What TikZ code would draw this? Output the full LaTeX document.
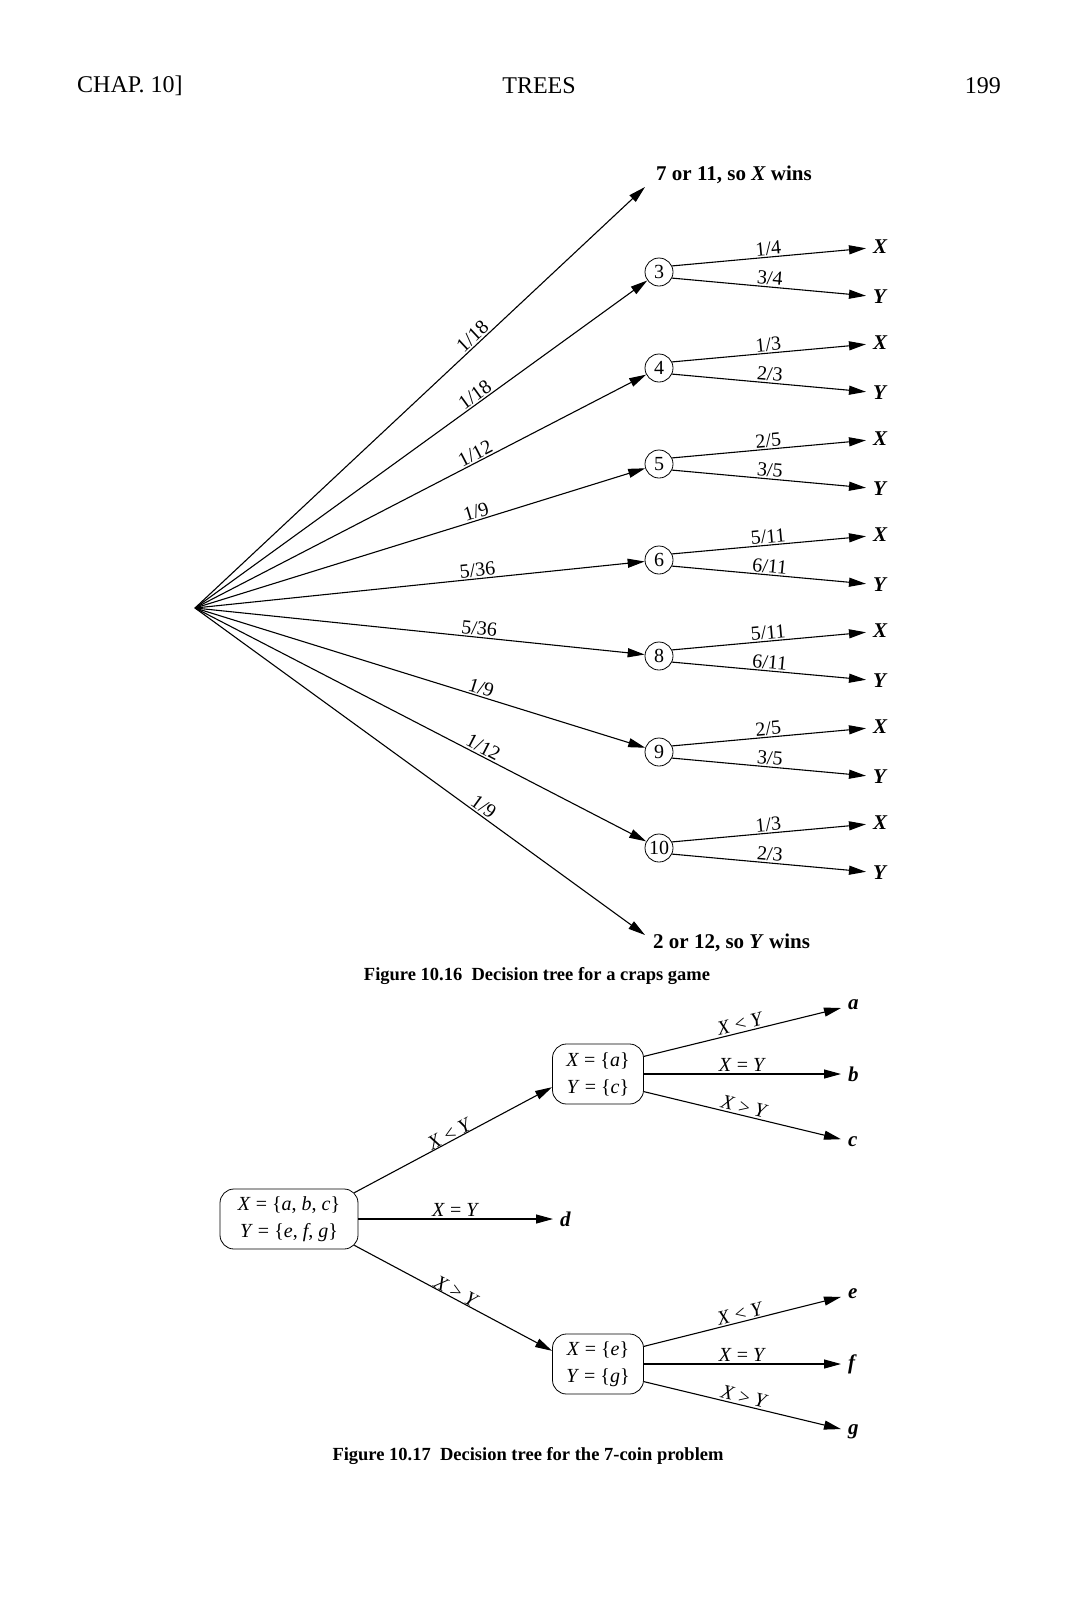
\documentclass[tikz,border=0pt]{standalone}
\usepackage{fontspec}
\setmainfont{Liberation Serif}
\usetikzlibrary{arrows.meta, positioning, calc}
\tikzset{
  chance/.style  = {draw, circle, line width=0.8pt, minimum size=28pt,
                    inner sep=0pt, font=\fontsize{20}{22}\selectfont},
  setbox/.style  = {draw, rectangle, rounded corners=14pt, align=center,
                    line width=0.8pt, minimum height=60pt, inner sep=2pt,
                    font=\fontsize{20}{27}\selectfont},
  arr/.style     = {-{Triangle[length=17pt, width=9pt]}, line width=1.1pt},
  lbl/.style     = {font=\fontsize{20}{22}\selectfont, sloped, above,
                    inner sep=1.5pt},
  leaf/.style    = {font=\fontsize{21}{24}\selectfont\bfseries\itshape,
                    anchor=west, inner sep=0pt, outer sep=7pt},
  outcome/.style = {font=\fontsize{21}{24}\selectfont\bfseries,
                    anchor=west, inner sep=0pt},
  capt/.style    = {font=\fontsize{18.5}{22}\selectfont\bfseries, inner sep=0pt},
  hdr/.style     = {font=\fontsize{24}{28}\selectfont, inner sep=0pt}
}

\begin{document}
\begin{tikzpicture}[x=1pt, y=-1pt]
  \useasboundingbox (0,0) rectangle (1079,1610);

  % ── Running head ──────────────────────────────────────────────────────────
  \node[hdr, anchor=west] (chap)  at (77,86)   {CHAP. 10]};
  \node[hdr]              (title) at (539,86)  {TREES};
  \node[hdr, anchor=east] (page)  at (1001,86) {199};

  % ── Figure 10.16: first roll ──────────────────────────────────────────────
  \coordinate (root) at (195,608);
  \node[chance] (c3)  at (659,272) {3};
  \node[chance] (c4)  at (659,368) {4};
  \node[chance] (c5)  at (659,464) {5};
  \node[chance] (c6)  at (659,560) {6};
  \node[chance] (c8)  at (659,656) {8};
  \node[chance] (c9)  at (659,752) {9};
  \node[chance] (c10) at (659,848) {10};

  % end of game on the first roll
  \coordinate (tip7) at (645,187);
  \coordinate (tip2) at (645,935);
  \node[outcome] (win7) at (656,175) {7 or 11, so \textit{X} wins};
  \node[outcome] (win2) at (653,943) {2 or 12, so \textit{Y} wins};

  % ── Winners after the point is set ────────────────────────────────────────
  \node[leaf] (x3)  at (866,247) {X};  \node[leaf] (y3)  at (866,297) {Y};
  \node[leaf] (x4)  at (866,343) {X};  \node[leaf] (y4)  at (866,393) {Y};
  \node[leaf] (x5)  at (866,439) {X};  \node[leaf] (y5)  at (866,489) {Y};
  \node[leaf] (x6)  at (866,535) {X};  \node[leaf] (y6)  at (866,585) {Y};
  \node[leaf] (x8)  at (866,631) {X};  \node[leaf] (y8)  at (866,681) {Y};
  \node[leaf] (x9)  at (866,727) {X};  \node[leaf] (y9)  at (866,777) {Y};
  \node[leaf] (x10) at (866,823) {X};  \node[leaf] (y10) at (866,873) {Y};

  % ── Connections ───────────────────────────────────────────────────────────

  % fan out of the root
  \draw[arr] (root) -- node[lbl, pos=0.63]{1/18} (tip7);
  \draw[arr] (root) -- node[lbl, pos=0.63]{1/18} (c3);
  \draw[arr] (root) -- node[lbl, pos=0.63]{1/12} (c4);
  \draw[arr] (root) -- node[lbl, pos=0.63]{1/9}  (c5);
  \draw[arr] (root) -- node[lbl, pos=0.63]{5/36} (c6);
  \draw[arr] (root) -- node[lbl, pos=0.63]{5/36} (c8);
  \draw[arr] (root) -- node[lbl, pos=0.63]{1/9}  (c9);
  \draw[arr] (root) -- node[lbl, pos=0.63]{1/12} (c10);
  \draw[arr] (root) -- node[lbl, pos=0.63]{1/9}  (tip2);

  % point made (X) or seven first (Y)
  \draw[arr] (c3.25)  -- node[lbl]{1/4}  (x3);
  \draw[arr] (c3.-25) -- node[lbl]{3/4}  (y3);
  \draw[arr] (c4.25)  -- node[lbl]{1/3}  (x4);
  \draw[arr] (c4.-25) -- node[lbl]{2/3}  (y4);
  \draw[arr] (c5.25)  -- node[lbl]{2/5}  (x5);
  \draw[arr] (c5.-25) -- node[lbl]{3/5}  (y5);
  \draw[arr] (c6.25)  -- node[lbl]{5/11} (x6);
  \draw[arr] (c6.-25) -- node[lbl]{6/11} (y6);
  \draw[arr] (c8.25)  -- node[lbl]{5/11} (x8);
  \draw[arr] (c8.-25) -- node[lbl]{6/11} (y8);
  \draw[arr] (c9.25)  -- node[lbl]{2/5}  (x9);
  \draw[arr] (c9.-25) -- node[lbl]{3/5}  (y9);
  \draw[arr] (c10.25)  -- node[lbl]{1/3} (x10);
  \draw[arr] (c10.-25) -- node[lbl]{2/3} (y10);

  \node[capt] (cap16) at (537,976) {Figure 10.16~\ Decision tree for a craps game};

  % ── Figure 10.17: weighings ───────────────────────────────────────────────
  \node[setbox, minimum width=138pt] (rootbox) at (289,1219)
        {\textit{X} = \{\textit{a}, \textit{b}, \textit{c}\}\\
         \textit{Y} = \{\textit{e}, \textit{f}, \textit{g}\}};
  \node[setbox, minimum width=91pt]  (boxA)    at (598,1074)
        {\textit{X} = \{\textit{a}\}\\ \textit{Y} = \{\textit{c}\}};
  \node[setbox, minimum width=91pt]  (boxB)    at (598,1364)
        {\textit{X} = \{\textit{e}\}\\ \textit{Y} = \{\textit{g}\}};

  % fake coin found
  \node[leaf] (la) at (841,1005) {a};
  \node[leaf] (lb) at (841,1074) {b};
  \node[leaf] (lc) at (841,1142) {c};
  \node[leaf] (ld) at (553,1219) {d};
  \node[leaf] (le) at (841,1294) {e};
  \node[leaf] (lf) at (841,1364) {f};
  \node[leaf] (lg) at (841,1432) {g};

  % first weighing
  \draw[arr] ([shift={(-4.1,4.1)}]rootbox.north east) --
        node[lbl, inner sep=0pt]{\textit{X} < \textit{Y}} (boxA.196);
  \draw[arr] (rootbox.east) -- node[lbl]{\textit{X} = \textit{Y}} (ld);
  \draw[arr] ([shift={(-4.1,-4.1)}]rootbox.south east) --
        node[lbl, inner sep=0pt]{\textit{X} > \textit{Y}} (boxB.164);

  % second weighing, upper branch
  \draw[arr] (boxA.21)   -- node[lbl]{\textit{X} < \textit{Y}} (la);
  \draw[arr] (boxA.east) -- node[lbl]{\textit{X} = \textit{Y}} (lb);
  \draw[arr] (boxA.-21)  -- node[lbl]{\textit{X} > \textit{Y}} (lc);

  % second weighing, lower branch
  \draw[arr] (boxB.21)   -- node[lbl]{\textit{X} < \textit{Y}} (le);
  \draw[arr] (boxB.east) -- node[lbl]{\textit{X} = \textit{Y}} (lf);
  \draw[arr] (boxB.-21)  -- node[lbl]{\textit{X} > \textit{Y}} (lg);

  \node[capt] (cap17) at (528,1456) {Figure 10.17~\ Decision tree for the 7-coin problem};

\end{tikzpicture}
\end{document}
